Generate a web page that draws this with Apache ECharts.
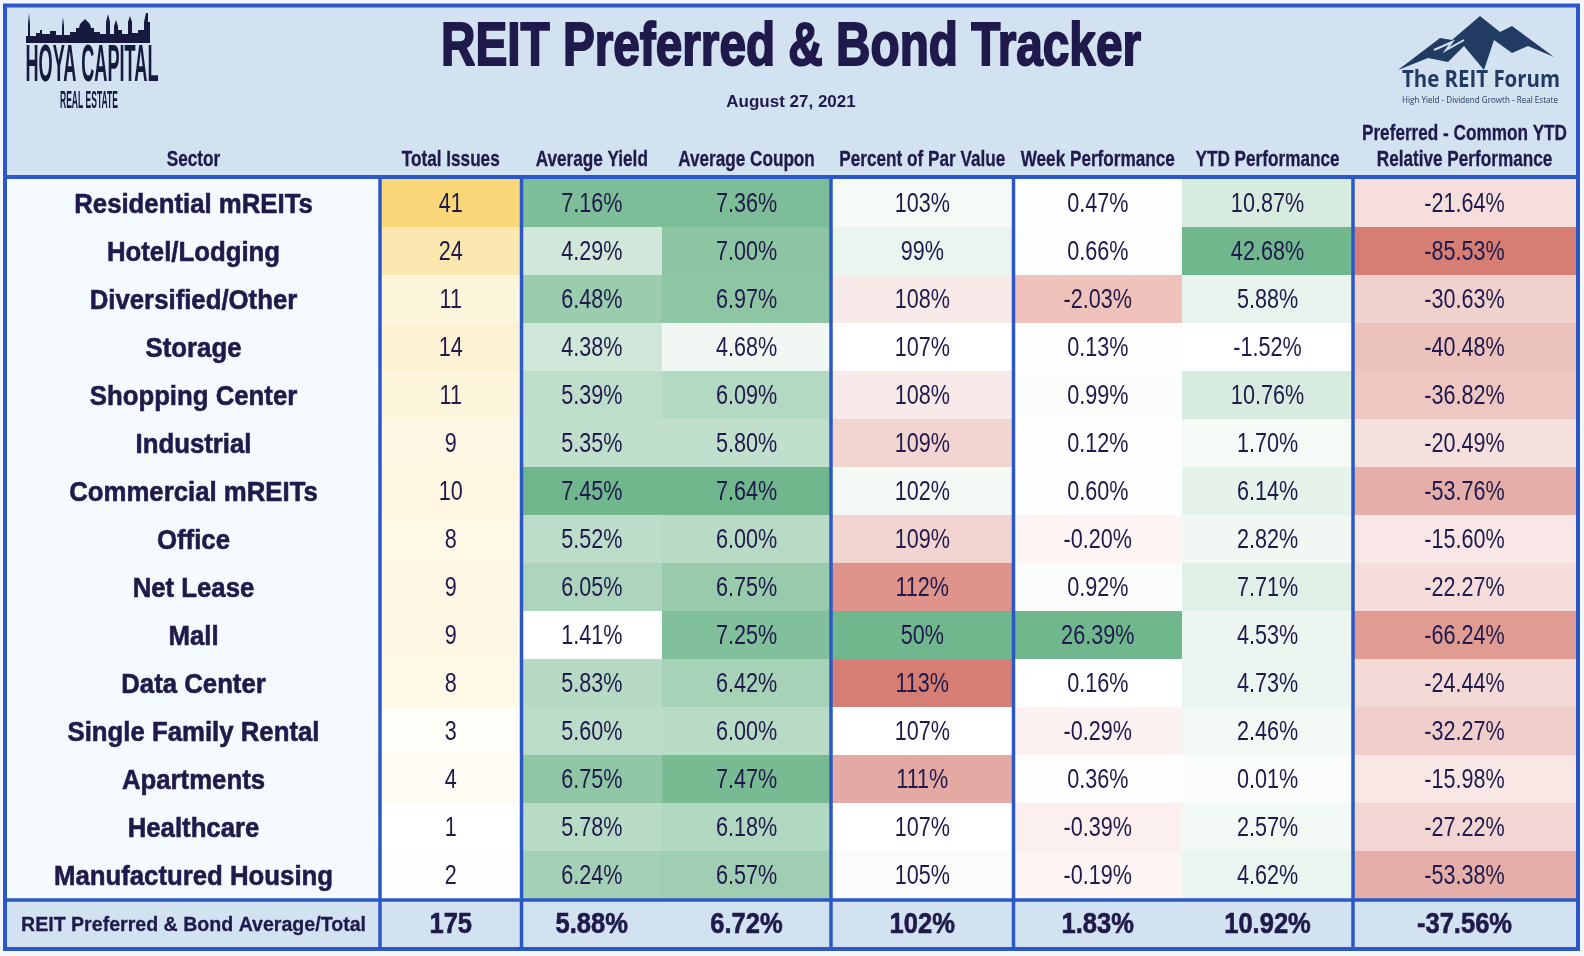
<!DOCTYPE html>
<html><head><meta charset="utf-8">
<script src="https://cdn.jsdelivr.net/npm/echarts@6/dist/echarts.min.js"></script>
<style>html,body{margin:0;padding:0;background:#f4f8fc;}#c{width:1584px;height:956px;}</style>
</head><body><div id="c"></div>
<script>
// ---------- data ----------
const sectors = ['Residential mREITs','Hotel/Lodging','Diversified/Other','Storage','Shopping Center','Industrial','Commercial mREITs','Office','Net Lease','Mall','Data Center','Single Family Rental','Apartments','Healthcare','Manufactured Housing'];
const totalIssues = [41,24,11,14,11,9,10,8,9,9,8,3,4,1,2];
const avgYield = [7.16,4.29,6.48,4.38,5.39,5.35,7.45,5.52,6.05,1.41,5.83,5.60,6.75,5.78,6.24];
const avgCoupon = [7.36,7.00,6.97,4.68,6.09,5.80,7.64,6.00,6.75,7.25,6.42,6.00,7.47,6.18,6.57];
const pctPar = [103,99,108,107,108,109,102,109,112,50,113,107,111,107,105];
const weekPerf = [0.47,0.66,-2.03,0.13,0.99,0.12,0.60,-0.20,0.92,26.39,0.16,-0.29,0.36,-0.39,-0.19];
const ytdPerf = [10.87,42.68,5.88,-1.52,10.76,1.70,6.14,2.82,7.71,4.53,4.73,2.46,0.01,2.57,4.62];
const relPerf = [-21.64,-85.53,-30.63,-40.48,-36.82,-20.49,-53.76,-15.60,-22.27,-66.24,-24.44,-32.27,-15.98,-27.22,-53.38];
const totalLabel = 'REIT Preferred & Bond Average/Total';
const totalRow = [175,5.88,6.72,102,1.83,10.92,-37.56];
const headers = ['Sector','Total Issues','Average Yield','Average Coupon','Percent of Par Value','Week Performance','YTD Performance','Preferred - Common YTD\nRelative Performance'];
const titleText = 'REIT Preferred & Bond Tracker';
const dateText = 'August 27, 2021';

// ---------- layout / style ----------
const colEdges = [7, 380, 521.5, 662, 831, 1013.5, 1182, 1353, 1576];
const dividerEdges = [1, 2, 4, 5, 7];
const TEXT = '#1f1a4b', BLUE = '#2b58c6', HEADER_BG = '#d3e2f1', SECTOR_BG = '#f5faff';
const WHITE = '#ffffff', GREEN = '#71b78d', RED = '#d77e74', GOLD = '#f9d678', PINK = '#efc2bb';
const FF = '"Liberation Sans", Arial, sans-serif';
const TEXT_DY = 2;

const lerp = (t, a, b) => echarts.color.lerp(t, [a, b]);
const minOf = a => Math.min(...a), maxOf = a => Math.max(...a);
const medOf = a => { const s = a.slice().sort((x,y)=>x-y); return s[(s.length-1)/2|0]; };
function colorAt(v, stops) {
  if (v <= stops[0][0]) return stops[0][1];
  for (let i = 1; i < stops.length; i++) {
    if (v <= stops[i][0]) {
      const t = (v - stops[i-1][0]) / (stops[i][0] - stops[i-1][0]);
      return lerp(t, stops[i-1][1], stops[i][1]);
    }
  }
  return stops[stops.length-1][1];
}
const pct2 = v => v.toFixed(2) + '%';
const columns = [
  {values: totalIssues, fmt: v => String(v), stops: a => [[minOf(a), WHITE], [maxOf(a), GOLD]]},
  {values: avgYield, fmt: pct2, stops: a => [[minOf(a), WHITE], [medOf(a), lerp(0.5, WHITE, GREEN)], [maxOf(a), GREEN]]},
  {values: avgCoupon, fmt: pct2, stops: a => [[minOf(a), lerp(0.1, WHITE, GREEN)], [maxOf(a), GREEN]]},
  {values: pctPar, fmt: v => Math.round(v) + '%', stops: a => [[minOf(a), GREEN], [medOf(a), WHITE], [maxOf(a), RED]]},
  {values: weekPerf, fmt: pct2, stops: a => [[minOf(a), PINK], [medOf(a), WHITE], [maxOf(a), GREEN]]},
  {values: ytdPerf, fmt: pct2, stops: a => [[minOf(a), WHITE], [maxOf(a), GREEN]]},
  {values: relPerf, fmt: pct2, stops: a => [[minOf(a), RED], [0, WHITE]]}
];

const mctx = document.createElement('canvas').getContext('2d');
function fit(text, font, width) { mctx.font = font; return width / mctx.measureText(text).width; }

// ---------- cells ----------
const nRows = sectors.length;
const cells = [];
const F_NAME = 'bold 28px ' + FF, F_NUM = '27px ' + FF, F_TOT = 'bold 29px ' + FF, F_TLAB = 'bold 21px ' + FF;
sectors.forEach((s, r) => cells.push({x0: colEdges[0], x1: colEdges[1], row: r, fill: SECTOR_BG, text: s, font: F_NAME, sx: 0.92, sw: 0.6}));
columns.forEach((col, c) => {
  const stops = col.stops(col.values);
  col.values.forEach((v, r) => cells.push({x0: colEdges[c+1], x1: colEdges[c+2], row: r, fill: colorAt(v, stops), text: col.fmt(v), font: F_NUM, sx: 0.8, sw: 0}));
});
cells.push({x0: colEdges[0], x1: colEdges[1], row: nRows, fill: HEADER_BG, text: totalLabel, font: F_TLAB, sx: fit(totalLabel, F_TLAB, 345), sw: 0.3});
columns.forEach((col, c) => cells.push({x0: colEdges[c+1], x1: colEdges[c+2], row: nRows, fill: HEADER_BG, text: col.fmt(totalRow[c]), font: F_TOT, sx: 0.88, sw: 0.6}));

function renderCell(params, api) {
  const d = cells[params.dataIndex];
  const p0 = api.coord([d.x0, d.row]);
  const p1 = api.coord([d.x1, d.row]);
  const h = api.size([0, 1])[1];
  const ts = {text: d.text, font: d.font, fill: TEXT, align: 'center', verticalAlign: 'middle'};
  if (d.sw) { ts.stroke = TEXT; ts.lineWidth = d.sw; }
  return {type: 'group', children: [
    {type: 'rect', shape: {x: p0[0], y: p0[1] - h/2, width: p1[0] - p0[0], height: h}, style: {fill: d.fill}},
    {type: 'text', x: (p0[0] + p1[0]) / 2, y: p0[1] + TEXT_DY, scaleX: d.sx, style: ts}
  ]};
}
function renderFrame(params, api) {
  const h = api.size([0, 1])[1];
  const top = api.coord([0, 0])[1] - h/2;
  const bot = api.coord([0, nRows])[1] + h/2;
  const totTop = api.coord([0, nRows])[1] - h/2;
  const xl = api.coord([colEdges[0], 0])[0], xr = api.coord([colEdges[colEdges.length-1], 0])[0];
  const ls = {stroke: BLUE, lineWidth: 3.5};
  const ch = [
    {type: 'line', shape: {x1: xl, y1: top - 2, x2: xr, y2: top - 2}, style: {stroke: BLUE, lineWidth: 4}},
    {type: 'line', shape: {x1: xl, y1: totTop + 1, x2: xr, y2: totTop + 1}, style: ls}
  ];
  dividerEdges.forEach(i => {
    const x = api.coord([colEdges[i], 0])[0];
    ch.push({type: 'line', shape: {x1: x, y1: top - 2, x2: x, y2: bot + 2}, style: ls});
  });
  return {type: 'group', children: ch};
}

// ---------- header graphics ----------
const F_TITLE = 'bold 61px ' + FF, F_DATE = 'bold 17px ' + FF, F_HEAD = 'bold 22px ' + FF;
const graphics = [
  {type: 'rect', z: -10, shape: {x: 5, y: 5.5, width: 1573, height: 943.5}, style: {fill: HEADER_BG}},
  {type: 'rect', z: 100, shape: {x: 5, y: 5.5, width: 1573, height: 943.5}, style: {fill: 'none', stroke: BLUE, lineWidth: 4}},
  {type: 'text', x: 791, y: 48, scaleX: fit(titleText, F_TITLE, 700), style: {text: titleText, font: F_TITLE, fill: TEXT, stroke: TEXT, lineWidth: 2, align: 'center', verticalAlign: 'middle'}},
  {type: 'text', x: 791, y: 102, style: {text: dateText, font: F_DATE, fill: TEXT, align: 'center', verticalAlign: 'middle'}}
];
headers.forEach((t, i) => {
  const cx = (colEdges[i] + colEdges[i+1]) / 2;
  const two = t.indexOf('\n') >= 0;
  graphics.push({type: 'text', x: cx, y: two ? 147 : 160, scaleX: 0.78, style: {text: t, font: F_HEAD, fill: TEXT, stroke: TEXT, lineWidth: 0.3, align: 'center', verticalAlign: 'middle', lineHeight: 26}});
});
// Hoya Capital logo
const LOGO = '#161a3f';
const sky = [[26,43],[26,36],[28,36],[28,24],[29,13],[30,24],[30,36],[36,36],[36,33],[40,33],[40,30],[42,30],[42,34],[50,34],[50,31],[56,31],[56,35],[62,35],[62,26],[63,17],[64,26],[64,35],[70,35],[70,32],[76,32],[76,28],[79,28],[80,24],[85,19],[90,24],[91,28],[94,28],[94,32],[100,32],[100,34],[106,34],[106,22],[108,14],[110,22],[110,34],[114,34],[114,26],[116,20],[118,26],[118,30],[122,30],[122,34],[128,34],[128,22],[130,16],[132,22],[132,33],[138,33],[138,30],[144,30],[144,22],[146,13],[148,13],[148,22],[150,22],[150,43]];
graphics.push({type: 'polygon', shape: {points: sky}, style: {fill: LOGO}});
const F_HOYA = 'bold 52px ' + FF, F_RE = 'bold 24px ' + FF;
graphics.push({type: 'text', x: 92, y: 67, scaleX: fit('HOYA CAPITAL', F_HOYA, 133), style: {text: 'HOYA CAPITAL', font: F_HOYA, fill: LOGO, align: 'center', verticalAlign: 'middle'}});
graphics.push({type: 'text', x: 89, y: 101, scaleX: fit('REAL ESTATE', F_RE, 58), style: {text: 'REAL ESTATE', font: F_RE, fill: LOGO, align: 'center', verticalAlign: 'middle'}});
// The REIT Forum logo
const FORUM = '#213b63';
const mtn = [[1398,70],[1440,38],[1452,40],[1480,16],[1500,32],[1512,26],[1554,57],[1528,46],[1512,53],[1494,40],[1484,70],[1464,46],[1448,62],[1428,58]];
graphics.push({type: 'polygon', shape: {points: mtn}, style: {fill: FORUM}});
graphics.push({type: 'polyline', shape: {points: [[1434,50],[1452,42],[1446,50],[1464,40]]}, style: {stroke: HEADER_BG, lineWidth: 2, fill: 'none'}});
const F_FOR = 'bold 24px "Open Sans", ' + FF, F_TAG = '9px "Open Sans", ' + FF;
const tag = 'High Yield - Dividend Growth - Real Estate';
graphics.push({type: 'text', x: 1481, y: 80, scaleX: fit('The REIT Forum', F_FOR, 158), style: {text: 'The REIT Forum', font: F_FOR, fill: FORUM, align: 'center', verticalAlign: 'middle'}});
graphics.push({type: 'text', x: 1480, y: 100, scaleX: fit(tag, F_TAG, 156), style: {text: tag, font: F_TAG, fill: FORUM, align: 'center', verticalAlign: 'middle'}});

// ---------- chart ----------
const chart = echarts.init(document.getElementById('c'), null, {renderer: 'canvas'});
chart.setOption({
  animation: false,
  backgroundColor: 'transparent',
  grid: {left: 0, right: 0, top: 179, bottom: 9, containLabel: false},
  xAxis: {type: 'value', min: 0, max: 1584, show: false},
  yAxis: {type: 'category', inverse: true, data: sectors.concat([totalLabel]), show: false},
  graphic: {elements: graphics},
  series: [
    {type: 'custom', name: 'cells', renderItem: renderCell, data: cells.map(d => [d.x0, d.row]), encode: {x: 0, y: 1}, z: 2, silent: true},
    {type: 'custom', name: 'frame', renderItem: renderFrame, data: [[0, 0]], encode: {x: 0, y: 1}, z: 3, silent: true}
  ]
});
</script>
</body></html>
